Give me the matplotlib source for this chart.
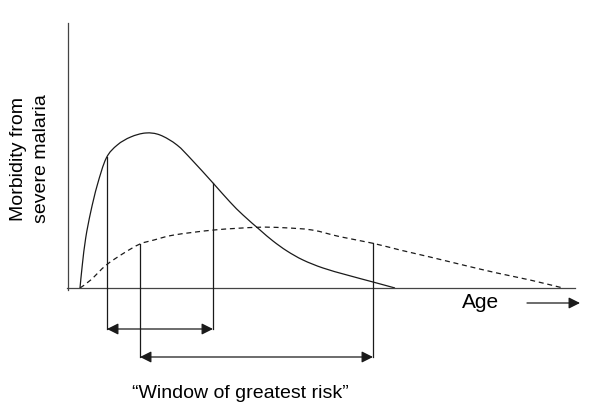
import numpy as np
import matplotlib.pyplot as plt
from matplotlib.path import Path
from matplotlib.patches import PathPatch

plt.rcParams['font.family'] = ['Liberation Sans', 'DejaVu Sans']

# solid curve: morbidity in high transmission setting
age_solid = [1.2, 1.43, 1.77, 2.27, 2.93, 3.83, 4.93, 6.27, 7.77, 9.2, 10.9, 12.4,
             14.5, 16.2, 17.5, 19.2, 20.5, 21.9, 23.5, 25.5, 27.9, 30.5, 32.7]
morb_solid = [0.0, 2.3, 5.0, 7.6, 10.3, 13.0, 14.3, 15.1, 15.5, 15.3, 14.3, 12.8,
              10.5, 8.6, 7.3, 5.8, 4.7, 3.7, 2.8, 2.0, 1.3, 0.6, 0.0]

# dashed curve: morbidity in low transmission setting
age_dash = [1.2, 2.27, 3.83, 5.6, 7.2, 8.6, 10.6, 14.6, 18.9, 21.5, 24.4, 27.2,
            30.5, 33.2, 36.2, 39.5, 42.9, 46.2, 49.5]
morb_dash = [0.0, 0.8, 2.3, 3.5, 4.4, 4.8, 5.3, 5.8, 6.07, 6.03, 5.8, 5.13,
             4.47, 3.8, 3.1, 2.3, 1.5, 0.8, 0.0]

# windows of greatest risk (start age, end age)
window_solid = (3.9, 14.5)
window_dash = (7.2, 30.5)

x_end = 50.7
y_top = 26.5


def smooth_path(xs, ys):
    # catmull-rom through the points, drawn as bezier segments
    p = np.column_stack([xs, ys])
    verts = [p[0]]
    codes = [Path.MOVETO]
    for i in range(len(p) - 1):
        p0 = p[i - 1] if i > 0 else p[i]
        p3 = p[i + 2] if i + 2 < len(p) else p[i + 1]
        c1 = p[i] + (p[i + 1] - p0) / 6
        c2 = p[i + 1] - (p3 - p[i]) / 6
        verts += [c1, c2, p[i + 1]]
        codes += [Path.CURVE4] * 3
    return Path(verts, codes)


fig = plt.figure(figsize=(6, 4.19), dpi=100)
ax = fig.add_axes([0, 0, 1, 1])
ax.set_xlim(-6.8, 53.2)
ax.set_ylim(-13.1, 28.8)
ax.axis('off')

lc = '#1a1a1a'
lw = 0.9

# axes
ax.plot([0, 0], [-0.2, y_top], color='#444444', lw=lw)
ax.plot([-0.1, x_end], [0, 0], color='#444444', lw=lw)

ax.add_patch(PathPatch(smooth_path(age_solid, morb_solid), fill=False,
                       edgecolor=lc, lw=lw))
ax.add_patch(PathPatch(smooth_path(age_dash, morb_dash), fill=False,
                       edgecolor=lc, lw=lw, linestyle=(0, (4, 3))))

# window markers
for win, curve_x, curve_y, row in [(window_solid, age_solid, morb_solid, -4.1),
                                   (window_dash, age_dash, morb_dash, -6.9)]:
    for a in win:
        top = np.interp(a, curve_x, curve_y)
        ax.plot([a, a], [row, top], color=lc, lw=lw)
    ax.annotate('', xy=(win[1], row), xytext=(win[0], row),
                arrowprops=dict(arrowstyle='<|-|>', color=lc, lw=lw,
                                mutation_scale=17, shrinkA=0, shrinkB=0))

ax.text(17.2, -10.5, '\u201cWindow of greatest risk\u201d', fontsize=14,
        ha='center', va='center')

ax.text(41.3, -1.4, 'Age', fontsize=15, ha='center', va='center')
ax.annotate('', xy=(51.2, -1.5), xytext=(45.9, -1.5),
            arrowprops=dict(arrowstyle='-|>', color=lc, lw=lw,
                            mutation_scale=17, shrinkA=0, shrinkB=0))

ax.text(-3.8, 12.9, 'Morbidity from\nsevere malaria', fontsize=14,
        rotation=90, ha='center', va='center', linespacing=1.4)

fig.savefig('out.png', dpi=100)
